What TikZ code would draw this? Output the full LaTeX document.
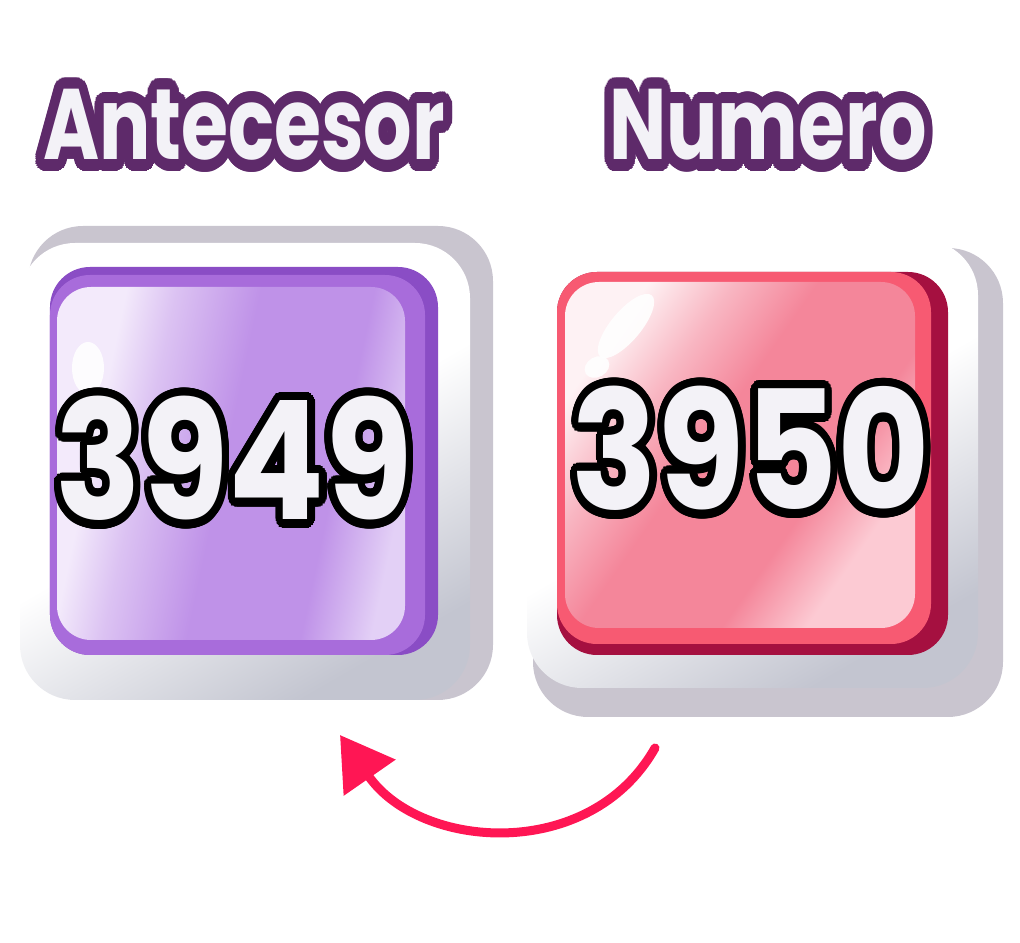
\documentclass[tikz,border=0pt]{standalone}
\usepackage{fontspec}
\setmainfont{Poppins}
\usepackage[copies]{contour}
\usetikzlibrary{arrows.meta}
\definecolor{titlepurple}{HTML}{5E2A6A}
\definecolor{textwhite}{HTML}{F3F2F7}
\definecolor{cardgray}{HTML}{C9C5CF}
\definecolor{cardshade}{HTML}{C3C5D0}
\definecolor{purpledark}{HTML}{8A4DC5}
\definecolor{purplemid}{HTML}{A86CDB}
\definecolor{purplelight}{HTML}{F3EAFB}
\definecolor{purplecenter}{HTML}{BF92E8}
\definecolor{purpleright}{HTML}{E3D0F6}
\definecolor{reddark}{HTML}{A51040}
\definecolor{redmid}{HTML}{F75A72}
\definecolor{pinklight}{HTML}{FEF2F4}
\definecolor{pinkcenter}{HTML}{F4869A}
\definecolor{pinkright}{HTML}{FCCAD3}
\definecolor{arrowred}{HTML}{FF1654}
\pgfdeclarehorizontalshading{purpleglass}{100bp}{color(0bp)=(purplelight); color(30bp)=(purplelight);
    color(37bp)=(purplecenter!45!purplelight); color(49bp)=(purplecenter); color(65bp)=(purplecenter);
    color(75bp)=(purpleright); color(100bp)=(purpleright)}
\pgfdeclarehorizontalshading{pinkglass}{100bp}{color(0bp)=(pinklight); color(25bp)=(pinklight);
    color(35bp)=(pinklight!45!pinkcenter); color(45bp)=(pinkcenter); color(62bp)=(pinkcenter);
    color(72bp)=(pinkright); color(100bp)=(pinkright)}
\contournumber{32}
\newcommand{\outlined}[3]{\contourlength{#2}\contour{#1}{#3}}
\tikzset{
    cardback/.style = {fill=cardgray, rounded corners=0.55cm},
    cardface/.style = {rounded corners=0.55cm, top color=white,
        bottom color=cardshade, middle color=white, shading angle=30},
    title/.style = {anchor=base, text=textwhite, inner sep=0pt,
        font=\bfseries\fontsize{28.5}{30}\selectfont},
    number/.style = {anchor=base, text=textwhite, inner sep=0pt,
        font=\bfseries\fontsize{47}{48}\selectfont},
    line/.style = {-{Triangle[length=0.52cm, width=0.61cm]}}
}
\begin{document}
\begin{tikzpicture}[x=0.01cm, y=-0.01cm]
\useasboundingbox (0,0) rectangle (1020,943);

% left card
\fill[cardback] (28,226) rectangle (493,700);
\shade[cardface] (20,243) rectangle (470,700);
\fill[purpledark, rounded corners=0.4cm] (50,267) rectangle (438,655);
\fill[purplemid, rounded corners=0.4cm] (50,275) rectangle (425,655);
\shade[rounded corners=0.34cm, shading=purpleglass, shading angle=-12] (57,287) rectangle (405,640);
\fill[white, opacity=0.9] (88,368) ellipse [x radius=16, y radius=26];

% right card
\fill[cardback] (533,248) rectangle (1003,717);
\shade[cardface] (527,240) rectangle (978,688);
\fill[reddark, rounded corners=0.4cm] (557,272) rectangle (948,655);
\fill[redmid, rounded corners=0.4cm] (557,272) rectangle (931,644);
\shade[rounded corners=0.34cm, shading=pinkglass, shading angle=-35] (565,282) rectangle (915,628);
\fill[white, opacity=0.9, rotate around={50:(626,326)}] (626,326) ellipse [x radius=40, y radius=15];
\fill[white, opacity=0.9, rotate around={30:(597,367)}] (597,367) ellipse [x radius=13, y radius=10];

% titles
\node[title] (antectitle) at (244,160) {\scalebox{0.76}[1]{\outlined{titlepurple}{3.3pt}{Antecesor}}};
\node[title] (numtitle) at (768,160) {\scalebox{0.76}[1]{\outlined{titlepurple}{3.3pt}{Numero}}};

% numbers
\node[number] (antecnum) at (234,520) {\scalebox{0.86}[1]{\outlined{black}{2.4pt}{3949}}};
\node[number] (numnum) at (751,510) {\scalebox{0.86}[1]{\outlined{black}{2.4pt}{3950}}};

% arrow
\coordinate (arrowstart) at (655,748);
\coordinate (arrowtip) at (340,735);
\draw[line, arrowred, line width=0.09cm, line cap=round]
    (arrowstart) .. controls +(-65,115) and +(80,115) .. (arrowtip);

\end{tikzpicture}
\end{document}
